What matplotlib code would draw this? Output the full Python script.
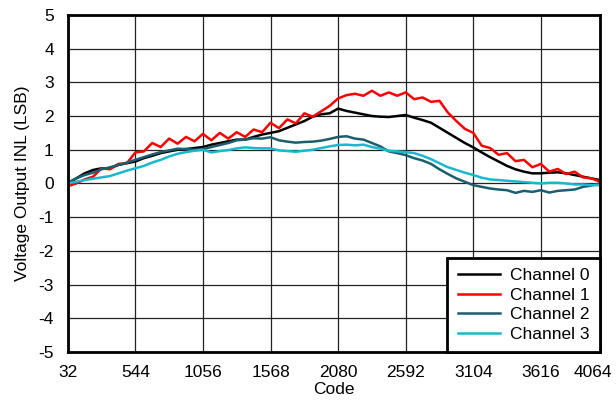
import numpy as np
import matplotlib
matplotlib.use('Agg')
import matplotlib.pyplot as plt
from matplotlib.transforms import ScaledTranslation

plt.rcParams['font.family'] = ['Liberation Sans', 'DejaVu Sans']
plt.rcParams['axes.unicode_minus'] = False

codes = np.arange(32, 4065, 64)  # 64 codes, step 64

ch0 = [0.0, 0.15, 0.3, 0.4, 0.45, 0.45, 0.55, 0.6, 0.65, 0.75, 0.82, 0.9, 0.95, 1.0, 1.02, 1.05,
       1.08, 1.15, 1.2, 1.25, 1.3, 1.3, 1.38, 1.45, 1.5, 1.55, 1.65, 1.75, 1.85, 1.98, 2.05, 2.08,
       2.22, 2.15, 2.1, 2.05, 2.0, 1.98, 1.97, 2.0, 2.03, 1.95, 1.88, 1.8, 1.65, 1.5, 1.35, 1.2,
       1.07, 0.92, 0.78, 0.65, 0.52, 0.42, 0.35, 0.3, 0.3, 0.32, 0.33, 0.3, 0.25, 0.2, 0.15, 0.1]
ch1 = [-0.08, 0.0, 0.12, 0.2, 0.45, 0.42, 0.58, 0.6, 0.92, 0.95, 1.2, 1.08, 1.33, 1.18, 1.38, 1.25,
       1.47, 1.28, 1.5, 1.33, 1.52, 1.38, 1.6, 1.52, 1.8, 1.64, 1.9, 1.78, 2.08, 1.98, 2.14, 2.3,
       2.52, 2.62, 2.66, 2.6, 2.75, 2.6, 2.7, 2.6, 2.7, 2.5, 2.55, 2.42, 2.45, 2.1, 1.85, 1.62,
       1.5, 1.12, 1.05, 0.85, 0.9, 0.66, 0.7, 0.48, 0.58, 0.35, 0.43, 0.28, 0.35, 0.18, 0.15, 0.05]
ch2 = [0.02, 0.15, 0.25, 0.32, 0.42, 0.48, 0.55, 0.62, 0.7, 0.78, 0.86, 0.93, 0.98, 1.03, 1.02, 1.0,
       1.02, 1.08, 1.14, 1.2, 1.28, 1.3, 1.34, 1.33, 1.37, 1.28, 1.24, 1.21, 1.23, 1.24, 1.27, 1.32,
       1.38, 1.4, 1.33, 1.3, 1.2, 1.1, 0.95, 0.9, 0.84, 0.75, 0.68, 0.58, 0.42, 0.28, 0.15, 0.05,
       -0.05, -0.1, -0.15, -0.18, -0.2, -0.28, -0.22, -0.25, -0.2, -0.27, -0.22, -0.2, -0.18, -0.1, -0.06, 0.0]
ch3 = [0.0, 0.05, 0.1, 0.14, 0.18, 0.22, 0.3, 0.38, 0.45, 0.52, 0.62, 0.7, 0.8, 0.88, 0.93, 0.97,
       1.0, 0.92, 0.96, 0.99, 1.04, 1.07, 1.05, 1.04, 1.04, 0.98, 0.96, 0.94, 0.97, 1.0, 1.05, 1.1,
       1.14, 1.15, 1.13, 1.15, 1.08, 1.03, 0.97, 0.95, 0.93, 0.9, 0.82, 0.72, 0.6, 0.48, 0.4, 0.32,
       0.25, 0.17, 0.12, 0.1, 0.08, 0.06, 0.04, 0.02, 0.0, 0.02, 0.02, 0.0, -0.03, -0.03, -0.05, -0.05]

labels = ['Channel 0', 'Channel 1', 'Channel 2', 'Channel 3']
colors = ['#000000', '#ff0000', '#1b5e6e', '#1ab8cc']
xticks = [32, 544, 1056, 1568, 2080, 2592, 3104, 3616, 4064]

fs = 12.5
fig = plt.figure(figsize=(6.16, 4.01), dpi=100)
ax = fig.add_axes([0.110, 0.122, 0.864, 0.841])

for y, lab, c in zip([ch0, ch1, ch2, ch3], labels, colors):
    ax.plot(codes, y, color=c, lw=1.8, label=lab)

ax.set_xlim(32, 4064)
ax.set_ylim(-5, 5)
ax.set_xticks(xticks)
ax.set_yticks(np.arange(-5, 6, 1))
ax.grid(True, color='#222222', lw=0.9)
ax.set_axisbelow(True)
ax.tick_params(length=0, labelsize=fs)
ax.tick_params(axis='y', pad=10)
ax.tick_params(axis='x', pad=9)
for s in ax.spines.values():
    s.set_linewidth(2)
ax.set_xlabel('Code', fontsize=fs, labelpad=2)
ax.set_ylabel('Voltage Output INL (LSB)', fontsize=fs, labelpad=6)

# last x label is pulled left so it fits inside the figure
last = ax.get_xticklabels()[-1]
last.set_transform(last.get_transform() + ScaledTranslation(-5 / 72, 0, fig.dpi_scale_trans))

leg = ax.legend(loc='lower right', fontsize=fs, fancybox=False, framealpha=1,
                edgecolor='black', borderaxespad=0, handlelength=2.4,
                handletextpad=0.6, labelspacing=0.25, borderpad=0.6)
leg.get_frame().set_linewidth(2)

fig.savefig('out.png', dpi=100)
